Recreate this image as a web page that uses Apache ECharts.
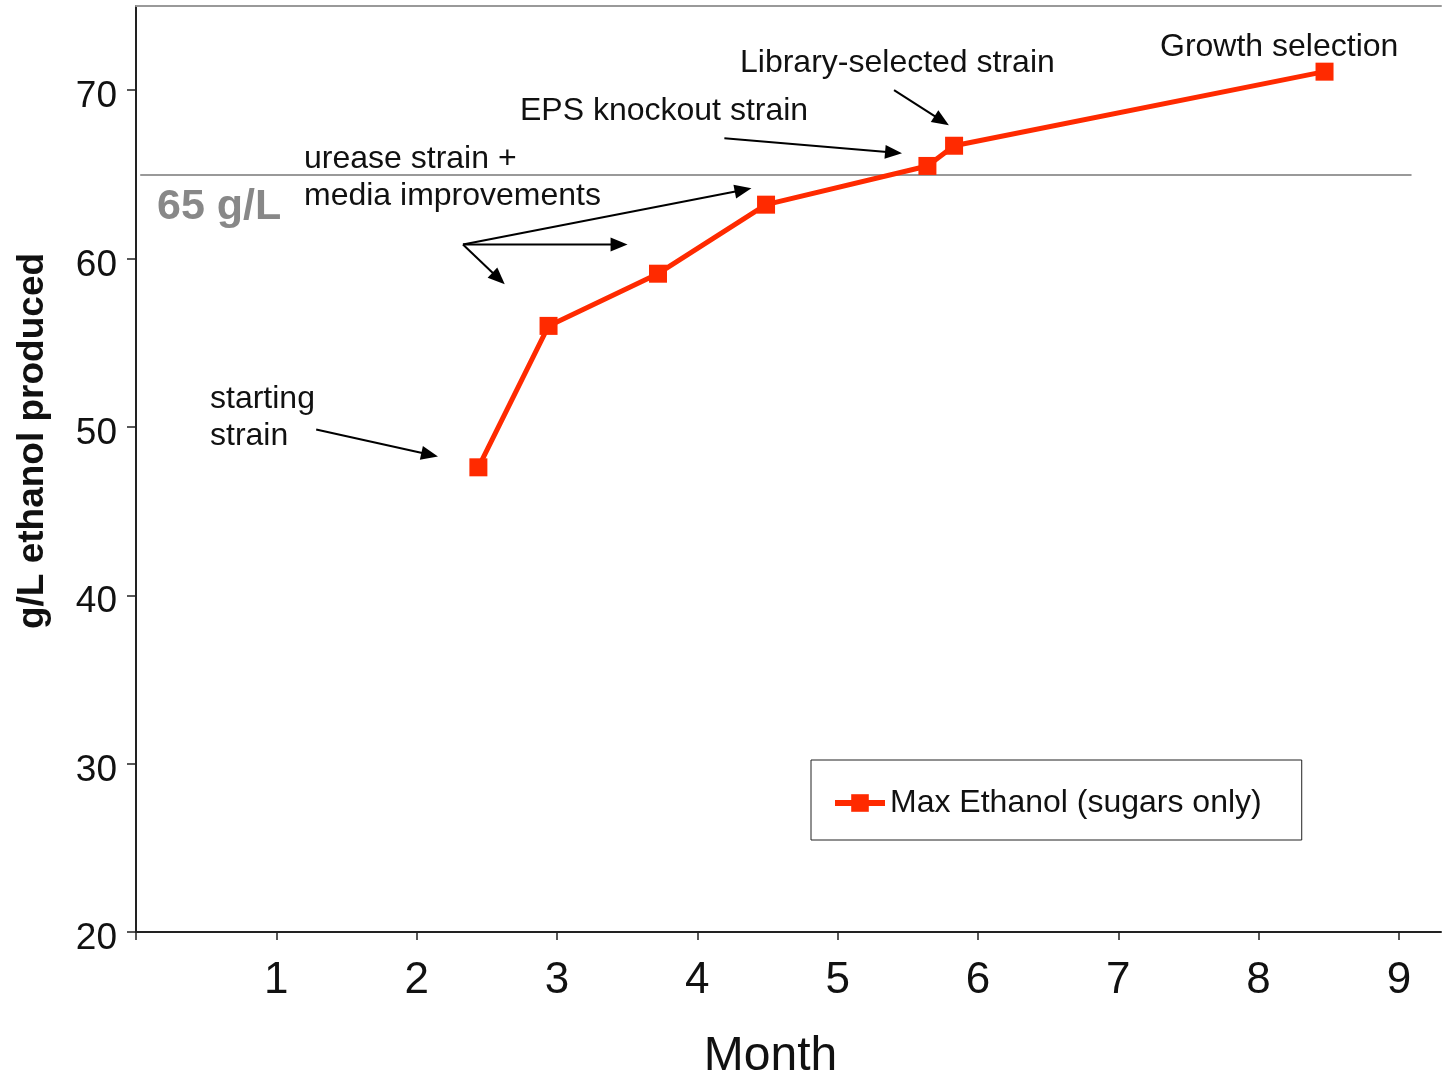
<!DOCTYPE html>
<html>
<head>
<meta charset="utf-8">
<title>Max Ethanol by Month</title>
<script src="https://cdn.jsdelivr.net/npm/echarts@6/dist/echarts.min.js"></script>
<style>
  html, body { margin: 0; padding: 0; background: #fff; }
  #chart { width: 1443px; height: 1072px; }
</style>
</head>
<body>
<div id="chart"></div>
<script>
// Strain-improvement timeline: month of each milestone and max ethanol titer (g/L)
const months = [2.44, 2.94, 3.72, 4.49, 5.64, 5.83, 8.47];
const ethanol = [47.6, 56.0, 59.1, 63.2, 65.5, 66.7, 71.1];

const xTicks = [0, 1, 2, 3, 4, 5, 6, 7, 8, 9];
const xTickLabels = [1, 2, 3, 4, 5, 6, 7, 8, 9];
const yTicks = [20, 30, 40, 50, 60, 70];

const targetTiter = 65;
const targetLabel = '65 g/L';

// Arrow segments in data units: [fromMonth, fromTiter, tipMonth, tipTiter]
const arrows = [
  [1.284, 49.85, 2.152, 48.24],   // starting strain
  [2.330, 60.84, 4.386, 64.17],   // urease + media (upper)
  [2.330, 60.84, 3.503, 60.84],   // urease + media (middle)
  [2.330, 60.84, 2.628, 58.47],   // urease + media (lower)
  [4.193, 67.15, 5.459, 66.25],   // EPS knockout
  [5.402, 70.00, 5.793, 67.92]    // library-selected
];

const notes = [
  { text: 'Growth selection', x: 1160, y: 47 },
  { text: 'Library-selected strain', x: 740, y: 63 },
  { text: 'EPS knockout strain', x: 520, y: 111 },
  { text: 'urease strain +', x: 304, y: 159 },
  { text: 'media improvements', x: 304, y: 196 },
  { text: 'starting', x: 210, y: 399 },
  { text: 'strain', x: 210, y: 436 }
];

const FONT = '"Liberation Sans", Arial, Helvetica, sans-serif';
const RED = '#ff2a00';

const chart = echarts.init(document.getElementById('chart'), null, { renderer: 'canvas' });

// Straight arrow with a filled triangular head whose tip sits on the target point
function renderArrow(params, api) {
  const a = api.coord([api.value(0), api.value(1)]);
  const b = api.coord([api.value(2), api.value(3)]);
  const dx = b[0] - a[0], dy = b[1] - a[1];
  const len = Math.sqrt(dx * dx + dy * dy) || 1;
  const ux = dx / len, uy = dy / len;
  const headLen = 17, headHalf = 7;
  const bx = b[0] - ux * headLen, by = b[1] - uy * headLen;
  const nx = -uy, ny = ux;
  return {
    type: 'group',
    children: [
      {
        type: 'line',
        shape: { x1: a[0], y1: a[1], x2: bx + ux * 2, y2: by + uy * 2 },
        style: { stroke: '#000000', lineWidth: 2 }
      },
      {
        type: 'polygon',
        shape: { points: [[b[0], b[1]], [bx + nx * headHalf, by + ny * headHalf], [bx - nx * headHalf, by - ny * headHalf]] },
        style: { fill: '#000000' }
      }
    ]
  };
}

const option = {
  animation: false,
  backgroundColor: '#ffffff',
  textStyle: { fontFamily: FONT },
  grid: { left: 136, right: 2, top: 6, bottom: 140, containLabel: false, outerBoundsMode: 'none' },
  legend: {
    left: 811,
    top: 760,
    orient: 'horizontal',
    padding: [23, 40, 17, 21],
    backgroundColor: '#ffffff',
    borderColor: '#222222',
    borderWidth: 1,
    itemWidth: 50,
    itemHeight: 22,
    lineStyle: { width: 6 },
    textStyle: { fontFamily: FONT, fontSize: 32, color: '#111111', lineHeight: 40 },
    data: ['Max Ethanol (sugars only)']
  },
  xAxis: [
    {
      type: 'value',
      min: 0,
      max: 9.3,
      interval: 1,
      name: 'Month',
      nameLocation: 'middle',
      nameGap: 101,
      nameTextStyle: { fontFamily: FONT, fontSize: 48, color: '#111111', padding: [0, 36, 0, 0] },
      axisLine: { show: true, onZero: false, lineStyle: { color: '#222222', width: 2 } },
      axisTick: { show: true, inside: false, length: 8, customValues: xTicks, lineStyle: { color: '#222222', width: 1.5 } },
      axisLabel: { show: true, margin: 27, fontSize: 44, color: '#111111', fontFamily: FONT, customValues: xTickLabels },
      splitLine: { show: false }
    },
    {
      type: 'value',
      position: 'top',
      min: 0,
      max: 9.3,
      axisLine: { show: true, onZero: false, lineStyle: { color: '#999999', width: 2 } },
      axisTick: { show: false },
      axisLabel: { show: false },
      splitLine: { show: false }
    }
  ],
  yAxis: {
    type: 'value',
    min: 20,
    max: 75,
    interval: 10,
    axisLine: { show: true, onZero: false, lineStyle: { color: '#222222', width: 2 } },
    axisTick: { show: true, inside: false, length: 9, customValues: yTicks, lineStyle: { color: '#222222', width: 1.5 } },
    axisLabel: {
      show: true,
      margin: 19,
      color: '#111111',
      customValues: yTicks,
      formatter: v => '{v|' + v + '}',
      rich: { v: { fontSize: 37, fontFamily: FONT, color: '#111111', padding: [14, 0, 0, 0] } }
    },
    splitLine: { show: false }
  },
  series: [
    {
      name: 'Max Ethanol (sugars only)',
      type: 'line',
      xAxisIndex: 0,
      data: months.map((m, i) => [m, ethanol[i]]),
      symbol: 'rect',
      symbolSize: 18,
      lineStyle: { color: RED, width: 5 },
      itemStyle: { color: RED },
      emphasis: { disabled: true },
      z: 5,
      markLine: {
        silent: true,
        symbol: ['none', 'none'],
        label: { show: false },
        lineStyle: { color: '#999999', width: 2, type: 'solid' },
        data: [
          [{ coord: [0.03, targetTiter] }, { coord: [9.09, targetTiter] }]
        ],
        z: 1
      }
    },
    {
      name: 'arrows',
      type: 'custom',
      xAxisIndex: 0,
      silent: true,
      renderItem: renderArrow,
      encode: { x: [0, 2], y: [1, 3] },
      data: arrows,
      z: 4
    }
  ],
  graphic: [
    {
      type: 'text',
      x: 157,
      y: 207,
      style: { text: targetLabel, fill: '#888888', font: 'bold 43px ' + FONT, align: 'left', verticalAlign: 'middle' }
    },
    {
      type: 'text',
      x: 33,
      y: 441,
      rotation: Math.PI / 2,
      style: { text: 'g/L ethanol produced', fill: '#111111', font: 'bold 37px ' + FONT, align: 'center', verticalAlign: 'middle' }
    }
  ].concat(notes.map(n => ({
    type: 'text',
    x: n.x,
    y: n.y,
    style: { text: n.text, fill: '#111111', font: '32px ' + FONT, align: 'left', verticalAlign: 'middle' }
  })))
};

chart.setOption(option);
</script>
</body>
</html>
